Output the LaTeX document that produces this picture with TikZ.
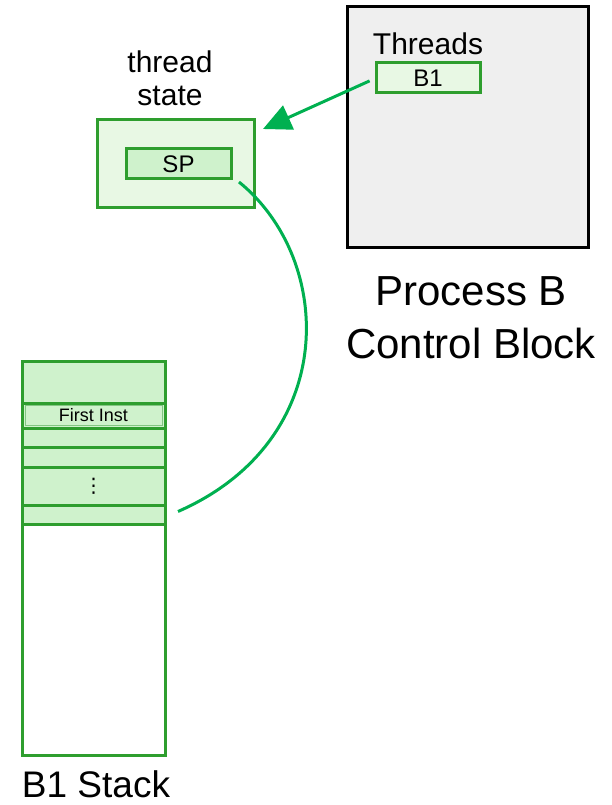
\documentclass[tikz,border=0pt]{standalone}
\usepackage{fontspec}
\setmainfont{Liberation Sans}
\newfontfamily\symfont{DejaVu Sans}
\usetikzlibrary{positioning,arrows.meta}

\definecolor{boxgreen}{RGB}{46,158,46}
\definecolor{linkgreen}{RGB}{0,176,80}
\definecolor{palegreen}{RGB}{232,248,228}
\definecolor{cellgreen}{RGB}{207,242,204}
\definecolor{pcbgray}{RGB}{239,239,239}

\tikzset{
  regbox/.style={draw=boxgreen, line width=3pt, rectangle, inner sep=0pt, outer sep=0pt},
  stackcell/.style={regbox, fill=cellgreen, minimum width=143pt},
  linkline/.style={draw=linkgreen, line width=3pt}
}

\begin{document}
\begin{tikzpicture}[x=1pt,y=-1pt]
        \useasboundingbox (0,0) rectangle (611,805);

        % process control block
        \node[draw=black, line width=3pt, fill=pcbgray, minimum width=241pt, minimum height=240pt] (pcb) at (467.5,127) {};
        \node[font=\fontsize{30}{33}\selectfont] (threads) at (428,44) {Threads};
        \node[regbox, fill=palegreen, minimum width=104pt, minimum height=30pt, font=\fontsize{24}{26}\selectfont] (b1) at (428,78) {B1};
        \node[align=center, font=\fontsize{42}{53}\selectfont] (pcblabel) at (471,318) {Process B\\Control Block};

        % thread state
        \node[align=center, font=\fontsize{30}{33}\selectfont] (tslabel) at (170,78) {thread\\state};
        \node[regbox, fill=palegreen, minimum width=157pt, minimum height=87pt] (ts) at (175.5,163.5) {};
        \node[regbox, fill=cellgreen, minimum width=105pt, minimum height=30pt, font=\fontsize{24}{26}\selectfont] (sp) at (178.5,164) {SP};

        % stack
        \node[regbox, fill=white, minimum width=143pt, minimum height=394pt] (stack) at (93.5,558) {};
        \node[stackcell, minimum height=42pt, anchor=north] (c1) at (93.5,361) {};
        \node[stackcell, minimum height=25pt, below=0pt of c1] (c2) {};
        \node[draw=boxgreen!60, line width=1pt, minimum width=137pt, minimum height=20pt, inner sep=0pt, font=\fontsize{18}{20}\selectfont] (inst) at (c2) {First Inst};
        \node[stackcell, minimum height=19pt, below=0pt of c2] (c3) {};
        \node[stackcell, minimum height=20pt, below=0pt of c3] (c4) {};
        \node[stackcell, minimum height=38pt, below=0pt of c4, font=\symfont\fontsize{20}{22}\selectfont] (c5) {⋮};
        \node[stackcell, minimum height=19pt, below=0pt of c5] (c6) {};
        \node[font=\fontsize{37}{40}\selectfont] (stacklabel) at (96,784) {B1 Stack};

        % links
        \coordinate (tip) at (263,129);
        \coordinate (spout) at ([shift={(8,3)}]sp.south east);
        \coordinate (stkin) at ([shift={(13,-3)}]c6.east);
        \draw[linkline, shorten <=7pt, -{Triangle[length=28pt,width=26pt]}] (b1.west) -- (tip);
        \draw[linkline] (spout) .. controls +(96,78) and +(162,-71) .. (stkin);

    \end{tikzpicture}
\end{document}
